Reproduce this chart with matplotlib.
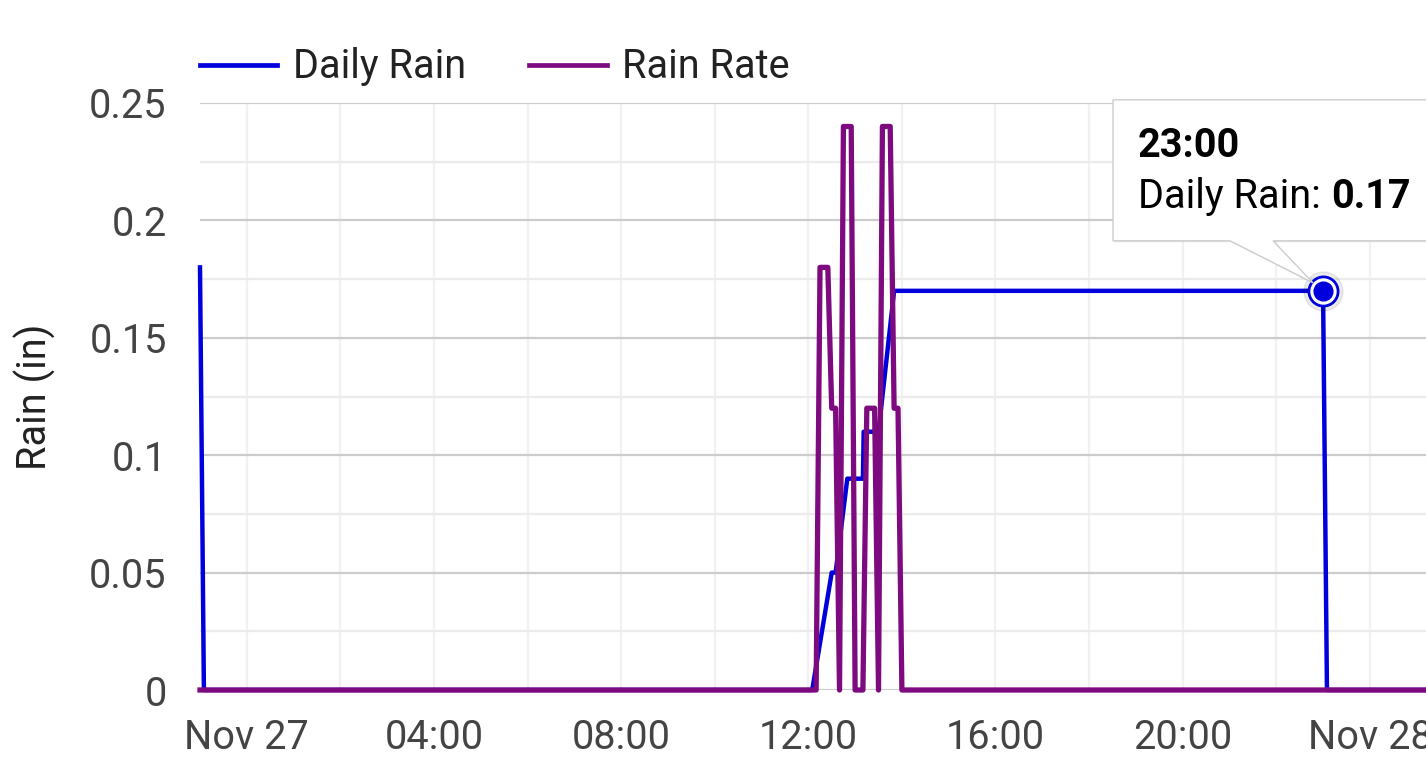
import matplotlib
matplotlib.use("Agg")
import matplotlib.pyplot as plt
import matplotlib.dates as mdates
from matplotlib.patches import Polygon
from matplotlib.transforms import IdentityTransform
import pandas as pd

plt.rcParams['font.family'] = ['Roboto', 'DejaVu Sans']

# Daily Rain (in)
daily_times = ["2023-11-26 23:00", "2023-11-26 23:05", "2023-11-27 12:05", "2023-11-27 12:30",
               "2023-11-27 12:35", "2023-11-27 12:50", "2023-11-27 13:10", "2023-11-27 13:11",
               "2023-11-27 13:30", "2023-11-27 13:50", "2023-11-27 23:00", "2023-11-27 23:05",
               "2023-11-28 01:12"]
daily_rain = [0.18, 0, 0, 0.05, 0.05, 0.09, 0.09, 0.11, 0.11, 0.17, 0.17, 0, 0]

# Rain Rate
rate_times = ["2023-11-26 23:00", "2023-11-27 12:10", "2023-11-27 12:15", "2023-11-27 12:25",
              "2023-11-27 12:30", "2023-11-27 12:35", "2023-11-27 12:40", "2023-11-27 12:45",
              "2023-11-27 12:55", "2023-11-27 13:00", "2023-11-27 13:10", "2023-11-27 13:15",
              "2023-11-27 13:25", "2023-11-27 13:30", "2023-11-27 13:35", "2023-11-27 13:45",
              "2023-11-27 13:50", "2023-11-27 13:55", "2023-11-27 14:00", "2023-11-28 01:12"]
rain_rate = [0, 0, 0.18, 0.18, 0.12, 0.12, 0, 0.24, 0.24, 0, 0, 0.12, 0.12, 0, 0.24, 0.24,
             0.12, 0.12, 0, 0]

tick_labels = ["Nov 27", "04:00", "08:00", "12:00", "16:00", "20:00", "Nov 28"]
y_ticks = [0, 0.05, 0.1, 0.15, 0.2, 0.25]
y_labels = ["0", "0.05", "0.1", "0.15", "0.2", "0.25"]

tip_time = "2023-11-27 23:00"
tip_value = 0.17

daily_t = pd.to_datetime(daily_times)
rate_t = pd.to_datetime(rate_times)

BLUE = "#0000dd"
PURPLE = "#7d0a7f"
FS = 28.5

fig = plt.figure(figsize=(14.26, 7.82), dpi=100)
ax = fig.add_axes([200 / 1426, 1 - 690 / 782, 1 - 200 / 1426, (690 - 103) / 782])

ax.plot(daily_t, daily_rain, color=BLUE, lw=3.2, label="Daily Rain", clip_on=False, zorder=3)
ax.plot(rate_t, rain_rate, color=PURPLE, lw=3.8, label="Rain Rate", clip_on=False, zorder=4)

ax.set_xlim(pd.Timestamp("2023-11-26 23:00"), pd.Timestamp("2023-11-28 01:12"))
ax.set_ylim(0, 0.25)

major = pd.date_range("2023-11-27 00:00", "2023-11-28 00:00", freq="4h")
ax.set_xticks(major)
ax.set_xticklabels(tick_labels)
ax.xaxis.set_minor_locator(mdates.HourLocator(interval=2))
ax.set_yticks(y_ticks)
ax.set_yticklabels(y_labels)
ax.set_yticks([0.025, 0.075, 0.125, 0.175, 0.225], minor=True)

ax.grid(True, axis="y", which="major", color="#cccccc", lw=1.6)
ax.grid(True, axis="y", which="minor", color="#ebebeb", lw=1.6)
ax.grid(True, axis="x", which="both", color="#f1f1f1", lw=1.6)
ax.set_axisbelow(True)
for s in ax.spines.values():
    s.set_visible(False)
ax.tick_params(which="both", length=0)
ax.tick_params(axis="x", pad=20, labelsize=FS, labelcolor="#444444")
ax.tick_params(axis="y", pad=24, labelsize=FS, labelcolor="#444444")
ax.set_ylabel("Rain (in)", fontsize=FS, color="#222222", labelpad=24)

fig.legend(loc="center left", bbox_to_anchor=(200 / 1426, 1 - 66 / 782), ncol=2,
           frameon=False, fontsize=FS, handlelength=1.95, handletextpad=0.4,
           columnspacing=1.6, borderpad=0, borderaxespad=0, labelcolor="#222222",
           handleheight=0.5)
for ln in fig.legends[0].get_lines():
    ln.set_linewidth(3.4)

# highlighted point
tx = mdates.date2num(pd.Timestamp(tip_time))
ax.plot([tx], [tip_value], "o", ms=28, color="#000000", alpha=0.08, clip_on=False, zorder=5)
ax.plot([tx], [tip_value], "o", ms=22, color=BLUE, clip_on=False, zorder=6)
ax.plot([tx], [tip_value], "o", ms=18, color="white", clip_on=False, zorder=7)
ax.plot([tx], [tip_value], "o", ms=13.5, color=BLUE, clip_on=False, zorder=8)

# tooltip box
fig.canvas.draw()
px, py = ax.transData.transform((tx, tip_value))
box = [(-210, 50), (-93, 50), (-10, 8), (-50, 50), (200, 50), (200, 191), (-210, 191)]
shadow = Polygon([(px + dx + 1.5, py + dy - 1.5) for dx, dy in box], closed=True,
                 facecolor="#000000", alpha=0.08, edgecolor="none", transform=IdentityTransform(),
                 zorder=9)
tip = Polygon([(px + dx, py + dy) for dx, dy in box], closed=True, facecolor="white",
              edgecolor="#cccccc", lw=1, transform=IdentityTransform(), zorder=10)
fig.patches.extend([shadow, tip])
fig.text((px - 185) / 1426, (py + 145) / 782, "23:00", fontsize=FS, fontweight="bold",
         color="#000000", va="center", ha="left", zorder=11)
t1 = fig.text((px - 185) / 1426, (py + 94) / 782, "Daily Rain: ", fontsize=FS,
              color="#000000", va="center", ha="left", zorder=11)
fig.canvas.draw()
bb = t1.get_window_extent()
fig.text(bb.x1 / 1426, (py + 94) / 782, "0.17", fontsize=FS, fontweight="bold",
         color="#000000", va="center", ha="left", zorder=11)

fig.savefig("out.png", dpi=100)
